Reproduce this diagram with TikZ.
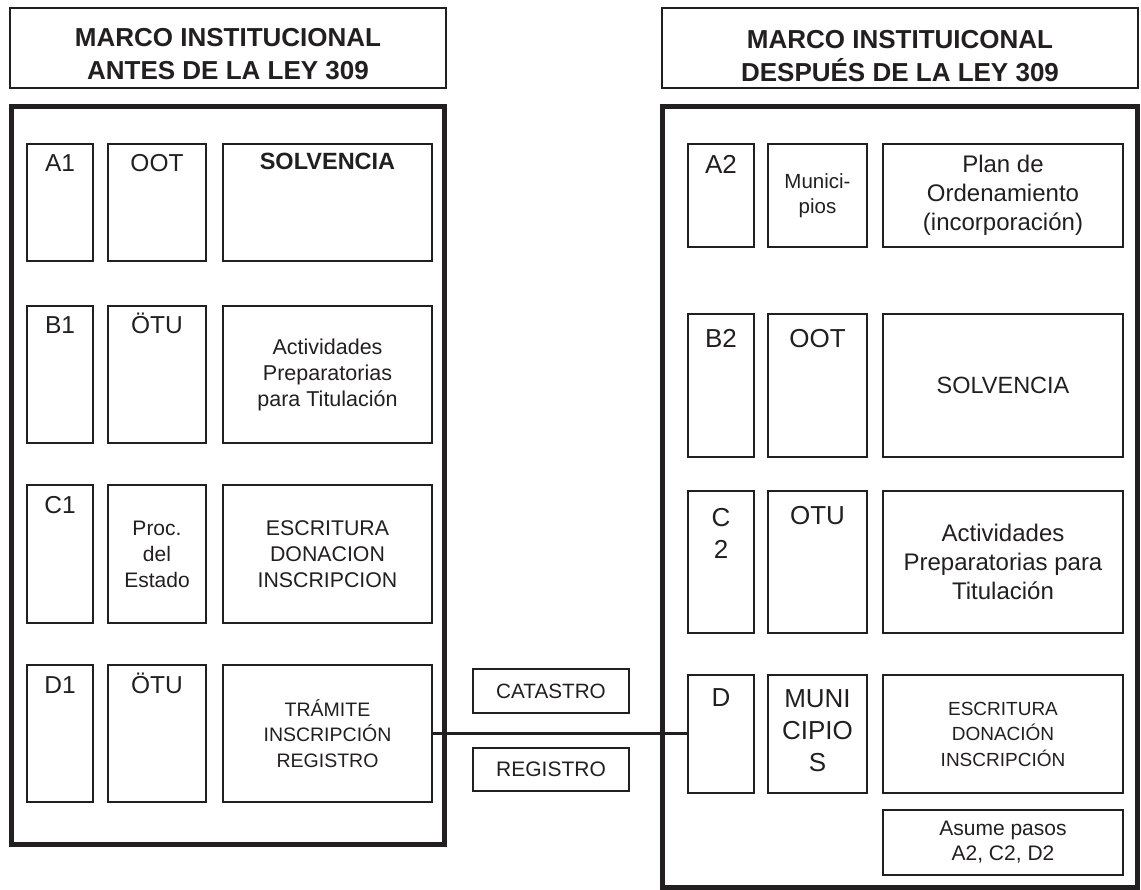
\documentclass[tikz,border=0pt]{standalone}
\usepackage{fontspec}
\setmainfont{Liberation Sans}
\definecolor{ink}{HTML}{231F20}
\begin{document}
\begin{tikzpicture}[x=1pt,y=-1pt,
  rect/.style args={#1/#2/#3/#4}{minimum width={#3-#1}, minimum height={#4-#2}, at={({(#1+#3)/2},{(#2+#4)/2})}},
  box/.style={draw=ink, line width=2.5pt, inner sep=0pt, rectangle, text=ink, align=center},
  hdr/.style={draw=ink, line width=2pt, inner sep=0pt, rectangle},
  frame/.style={draw=ink, line width=5pt, inner sep=0pt, rectangle},
  smallbox/.style={draw=ink, line width=2.2pt, inner sep=0pt, rectangle, text=ink, align=center},
  lab/.style={anchor=base, inner sep=0pt, text=ink, align=center},
  toplab/.style={anchor=north, inner sep=0pt, text=ink, align=center},
  hdrtext/.style={anchor=north, inner sep=0pt, text=ink, align=center, font=\fontsize{26}{33}\selectfont\bfseries},
  fl/.style={font=\fontsize{24.5}{30}\selectfont},
  fr/.style={font=\fontsize{26}{32}\selectfont},
  link/.style={draw=ink, line width=2.2pt}
]
\fill[white] (0,0) rectangle (1141,890);
\useasboundingbox (0,0) rectangle (1141,890);

% headers
\node[hdr, rect=10/8/446/88, label={[hdrtext, yshift=-21pt]north:MARCO INSTITUCIONAL\\ANTES DE LA LEY 309}] (hleft) {};
\node[hdr, rect=662/8/1138/88, label={[hdrtext, yshift=-23pt]north:MARCO INSTITUICONAL\\DESPUÉS DE LA LEY 309}] (hright) {};

% frames
\node[frame, rect=11.5/106.5/444.5/844.5] (fleft) {};
\node[frame, rect=662.5/106.5/1137.5/887.5] (fright) {};

% ---- left column ----
\node[box, rect=27/144/93/261, label={[lab, fl, yshift=-29pt]north:A1}] (a1) {};
\node[box, rect=108/144/206/261, label={[lab, fl, yshift=-29pt]north:OOT}] (oot1) {};
\node[box, rect=223/144/432/261, label={[lab, font=\fontsize{23.5}{28}\selectfont\bfseries, yshift=-27pt]north:SOLVENCIA}] (solv1) {};

\node[box, rect=27/306/93/443, label={[lab, fl, yshift=-29pt]north:B1}] (b1) {};
\node[box, rect=108/306/206/443, label={[lab, fl, yshift=-29pt]north:ÖTU}] (otu1) {};
\node[box, rect=223/306/432/443, font=\fontsize{21.5}{26}\selectfont] (act1) {Actividades\\Preparatorias\\para Titulación};

\node[box, rect=27/485/93/623, label={[lab, fl, yshift=-30pt]north:C1}] (c1) {};
\node[box, rect=108/485/206/623, font=\fontsize{21}{26}\selectfont] (proc1) {Proc.\\del\\Estado};
\node[box, rect=223/485/432/623, font=\fontsize{21.3}{26}\selectfont] (esc1) {ESCRITURA\\DONACION\\INSCRIPCION};

\node[box, rect=27/665/93/802, label={[lab, fl, yshift=-30pt]north:D1}] (d1) {};
\node[box, rect=108/665/206/802, label={[lab, fl, yshift=-30pt]north:ÖTU}] (otu1b) {};
\node[box, rect=223/665/432/802, font=\fontsize{19.5}{25.5}\selectfont] (tram1) {TRÁMITE\\INSCRIPCIÓN\\REGISTRO};

% ---- middle ----
\node[smallbox, rect=473/669/629/713, font=\fontsize{20.7}{25}\selectfont] (cat) {CATASTRO};
\node[smallbox, rect=473/748/629/791, font=\fontsize{21}{25}\selectfont] (reg) {REGISTRO};

% ---- right column ----
\node[box, rect=688/144/754/247, label={[lab, fr, yshift=-31pt]north:A2}] (a2) {};
\node[box, rect=768/144/867/247, font=\fontsize{20.5}{25}\selectfont] (mun2) {Munici-\\pios};
\node[box, rect=883/144/1123/247, font=\fontsize{24}{29}\selectfont] (plan2) {Plan de\\Ordenamiento\\(incorporación)};

\node[box, rect=688/314/754/457, label={[lab, fr, yshift=-35pt]north:B2}] (b2) {};
\node[box, rect=768/314/867/457, label={[lab, fr, yshift=-35pt]north:OOT}] (oot2) {};
\node[box, rect=883/314/1123/457, font=\fontsize{23.5}{28}\selectfont] (solv2) {SOLVENCIA};

\node[box, rect=688/491/754/633, label={[toplab, fr, yshift=-18pt]north:C\\2}] (c2) {};
\node[box, rect=768/491/867/633, label={[lab, fr, yshift=-35pt]north:OTU}] (otu2) {};
\node[box, rect=883/491/1123/633, font=\fontsize{24}{29}\selectfont] (act2) {Actividades\\Preparatorias para\\Titulación};

\node[box, rect=688/675/754/793, label={[lab, fr, yshift=-33pt]north:D}] (d2) {};
\node[box, rect=768/675/867/793, label={[toplab, fr, yshift=-16pt]north:MUNI\\CIPIO\\S}] (mun2b) {};
\node[box, rect=883/675/1123/793, font=\fontsize{19}{25.5}\selectfont] (esc2) {ESCRITURA\\DONACIÓN\\INSCRIPCIÓN};

\node[box, rect=883/810/1123/875, font=\fontsize{21}{25}\selectfont] (asume) {Asume pasos\\A2, C2, D2};

% connector
\draw[link] (tram1.east) -- (tram1.east -| d2.west);
\end{tikzpicture}
\end{document}
